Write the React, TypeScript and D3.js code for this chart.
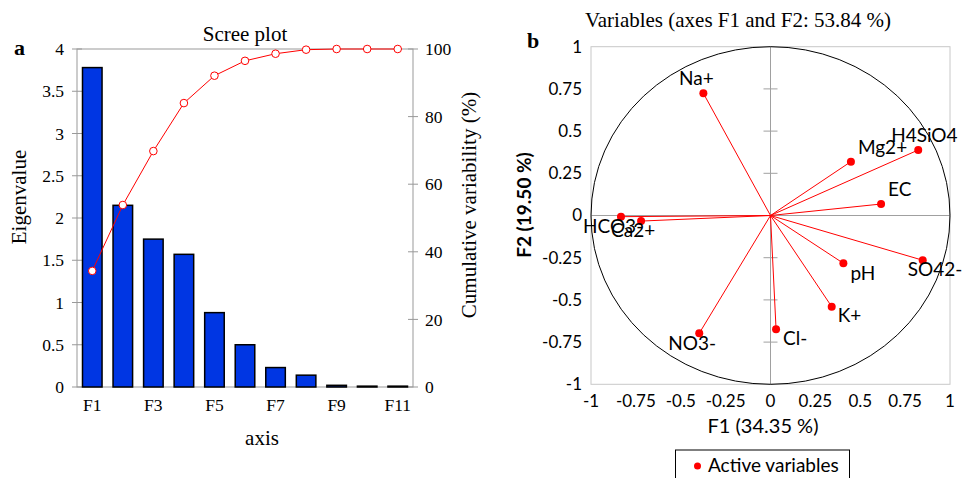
import React from "react";
import * as d3 from "d3";

// scree plot data
const factors = ["F1", "F2", "F3", "F4", "F5", "F6", "F7", "F8", "F9", "F10", "F11"];
const eigenvalues = [3.78, 2.15, 1.75, 1.57, 0.88, 0.5, 0.23, 0.14, 0.02, 0.01, 0.01];
const cumulative = [34.35, 53.84, 69.8, 84.0, 92.1, 96.5, 98.6, 99.8, 100, 100, 100];
const eigenTicks = [0, 0.5, 1, 1.5, 2, 2.5, 3, 3.5, 4];
const cumTicks = [0, 20, 40, 60, 80, 100];
const factorLabels = ["F1", "F3", "F5", "F7", "F9", "F11"];

// correlation circle data
const variables = ["Na+", "Mg2+", "H4SiO4", "EC", "HCO3-", "Ca2+", "pH", "SO42-", "K+", "Cl-", "NO3-"];
const f1Loadings = [-0.374, 0.448, 0.823, 0.616, -0.833, -0.721, 0.406, 0.848, 0.341, 0.031, -0.397];
const f2Loadings = [0.724, 0.319, 0.388, 0.068, -0.007, -0.033, -0.283, -0.265, -0.54, -0.674, -0.698];
const loadTicks = [-1, -0.75, -0.5, -0.25, 0, 0.25, 0.5, 0.75, 1];

// label placement around each point [dx, dy, anchor]
const labelPos: Record<string, [number, number, string]> = {
  "Na+": [-7, -8, "middle"],
  "Mg2+": [7, -8, "start"],
  "H4SiO4": [-27, -8, "start"],
  "EC": [7, -8, "start"],
  "HCO3-": [-38, 16, "start"],
  "Ca2+": [-30, 16, "start"],
  "pH": [7, 17, "start"],
  "SO42-": [-15, 16, "start"],
  "K+": [6, 15, "start"],
  "Cl-": [7, 16, "start"],
  "NO3-": [-31, 17, "start"],
};

const serif = "'Liberation Serif', 'Times New Roman', serif";
const sans = "Lato, 'Open Sans', sans-serif";
const grey = "#999";

const Scree = () => {
  const left = 77, right = 413, top = 49, bottom = 387;
  const x = d3.scaleBand().domain(factors).range([left, right]).paddingInner(0.36).paddingOuter(0.18);
  const y = d3.scaleLinear().domain([0, 4]).range([bottom, top]);
  const y2 = d3.scaleLinear().domain([0, 100]).range([bottom, top]);
  const cx = (f: string) => (x(f) as number) + x.bandwidth() / 2;
  const line = d3.line<number>()
    .x((_, i) => cx(factors[i]))
    .y((d) => y2(d));

  return (
    <g>
      <text x={14} y={55} fontFamily={serif} fontWeight="bold" fontSize={22}>a</text>
      <text x={245} y={41} textAnchor="middle" fontFamily={serif} fontSize={21}>Scree plot</text>
      <rect x={left} y={top} width={right - left} height={bottom - top} fill="none" stroke={grey} strokeWidth={1} />
      {eigenTicks.map((t) => (
        <g key={"l" + t}>
          <line x1={left - 5} x2={left + 5} y1={y(t)} y2={y(t)} stroke={grey} />
          <text x={64} y={y(t)} dy="0.35em" textAnchor="end" fontFamily={serif} fontSize={17.5}>{t}</text>
        </g>
      ))}
      {cumTicks.map((t) => (
        <g key={"r" + t}>
          <line x1={right - 5} x2={right + 5} y1={y2(t)} y2={y2(t)} stroke={grey} />
          <text x={425} y={y2(t)} dy="0.35em" textAnchor="start" fontFamily={serif} fontSize={17.5}>{t}</text>
        </g>
      ))}
      {eigenvalues.map((v, i) => (
        <rect key={factors[i]} x={x(factors[i])} y={y(v)} width={x.bandwidth()} height={bottom - y(v)}
          fill="#0036E3" stroke="#000" strokeWidth={1.5} />
      ))}
      <path d={line(cumulative) || ""} fill="none" stroke="#FF0000" strokeWidth={1} />
      {cumulative.map((v, i) => (
        <circle key={"c" + i} cx={cx(factors[i])} cy={y2(v)} r={3.8} fill="#fff" stroke="#FF0000" strokeWidth={1} />
      ))}
      {factorLabels.map((f) => (
        <text key={f} x={cx(f)} y={411} textAnchor="middle" fontFamily={serif} fontSize={17.5}>{f}</text>
      ))}
      <text x={262} y={445} textAnchor="middle" fontFamily={serif} fontSize={21}>axis</text>
      <text transform="translate(26,197) rotate(-90)" textAnchor="middle" fontFamily={serif} fontSize={21}>Eigenvalue</text>
      <text transform="translate(476,205) rotate(-90)" textAnchor="middle" fontFamily={serif} fontSize={21}>Cumulative variability (%)</text>
    </g>
  );
};

const Circle = () => {
  const left = 591, right = 950, top = 46.7, bottom = 384.3;
  const x = d3.scaleLinear().domain([-1, 1]).range([left, right]);
  const y = d3.scaleLinear().domain([-1, 1]).range([bottom, top]);
  const ox = x(0), oy = y(0);

  return (
    <g>
      <text x={527} y={48} fontFamily={serif} fontWeight="bold" fontSize={22}>b</text>
      <text x={738} y={27} textAnchor="middle" fontFamily={serif} fontSize={21}>Variables (axes F1 and F2: 53.84 %)</text>
      <rect x={left} y={top} width={right - left} height={bottom - top} fill="none" stroke="#c8c8c8" strokeWidth={1} />
      <line x1={left} x2={right} y1={oy} y2={oy} stroke="#a0a0a0" strokeWidth={1} />
      <line x1={ox} x2={ox} y1={top} y2={bottom} stroke="#a0a0a0" strokeWidth={1} />
      {loadTicks.filter((t) => t !== 0 && Math.abs(t) !== 1).map((t) => (
        <line key={"tk" + t} x1={ox - 7} x2={ox + 7} y1={y(t)} y2={y(t)} stroke="#a0a0a0" strokeWidth={1} />
      ))}
      <ellipse cx={ox} cy={oy} rx={x(1) - ox} ry={oy - y(1)} fill="none" stroke="#000" strokeWidth={1} />
      {loadTicks.map((t) => (
        <text key={"yt" + t} x={582} y={y(t)} dy="0.35em" textAnchor="end" fontFamily={sans} fontSize={17}>{t}</text>
      ))}
      {loadTicks.map((t) => (
        <text key={"xt" + t} x={x(t)} y={407} textAnchor="middle" fontFamily={sans} fontSize={17}>{t}</text>
      ))}
      {variables.map((v, i) => (
        <line key={"ln" + v} x1={ox} y1={oy} x2={x(f1Loadings[i])} y2={y(f2Loadings[i])} stroke="#FF0000" strokeWidth={1} />
      ))}
      {variables.map((v, i) => (
        <circle key={"pt" + v} cx={x(f1Loadings[i])} cy={y(f2Loadings[i])} r={4} fill="#FF0000" />
      ))}
      {variables.map((v, i) => {
        const [dx, dy, anchor] = labelPos[v];
        return (
          <text key={"lb" + v} x={x(f1Loadings[i]) + dx} y={y(f2Loadings[i]) + dy} textAnchor={anchor}
            fontFamily={sans} fontSize={19}>{v}</text>
        );
      })}
      <text x={763} y={433} textAnchor="middle" fontFamily={sans} fontSize={20}>F1 (34.35 %)</text>
      <text transform="translate(531,205) rotate(-90)" textAnchor="middle" fontFamily={sans} fontWeight="bold" fontSize={19}>F2 (19.50 %)</text>
      <rect x={675.5} y={450} width={174} height={40} fill="#fff" stroke="#000" strokeWidth={1} />
      <circle cx={697.5} cy={466} r={3.5} fill="#FF0000" />
      <text x={708} y={472} fontFamily={sans} fontSize={19}>Active variables</text>
    </g>
  );
};

export default function App() {
  return (
    <svg width={963} height={478} style={{ position: "absolute", left: 0, top: 0, background: "#fff" }}>
      <Scree />
      <Circle />
    </svg>
  );
}
